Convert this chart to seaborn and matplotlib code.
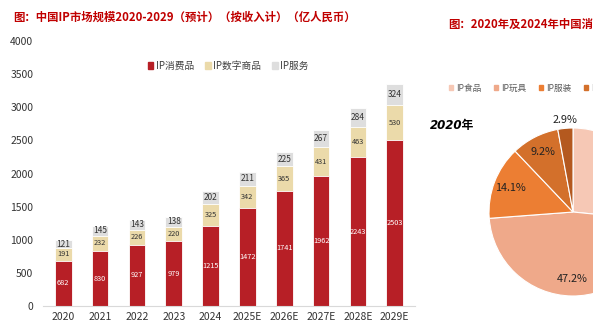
import matplotlib
matplotlib.use("Agg")
import matplotlib.pyplot as plt
import seaborn as sns
import numpy as np
import pandas as pd
from matplotlib.patches import Patch

sns.set_theme(style="white")
plt.rcParams['font.family'] = ['Noto Sans CJK SC', 'DejaVu Sans']

# ---- data ----
years = ["2020", "2021", "2022", "2023", "2024", "2025E", "2026E", "2027E", "2028E", "2029E"]
consumer = [682, 830, 927, 979, 1215, 1472, 1741, 1962, 2243, 2503]
digital = [191, 232, 226, 220, 325, 342, 365, 431, 463, 530]
service = [121, 145, 143, 138, 202, 211, 225, 267, 284, 324]
series_names = ["IP消费品", "IP数字商品", "IP服务"]

pie_labels = ["IP食品", "IP玩具", "IP服装", "IP文旅", "其他"]
pie_values = [26.6, 47.2, 14.1, 9.2, 2.9]

c_red, c_beige, c_gray = "#B71F26", "#EBDAAA", "#DEDEDE"
pie_colors = ["#F6C8B5", "#EFA98A", "#EC7E33", "#D3702B", "#B4591F"]
title_red = "#C00000"

W, H = 593, 335
fig = plt.figure(figsize=(W / 100, H / 100), dpi=100)
fig.patch.set_facecolor("white")

def fx(px):
    return px / W

def fy(py):
    return 1 - py / H

# ---- bar chart ----
ax = fig.add_axes([fx(43), fy(306), fx(415 - 43), (306 - 41) / H])
df = pd.DataFrame({"year": years, "c": consumer, "d": digital, "s": service})
df["cd"] = df["c"] + df["d"]
df["cds"] = df["cd"] + df["s"]

sns.barplot(data=df, x="year", y="cds", color=c_gray, saturation=1, width=0.45, ax=ax, edgecolor="white", linewidth=0.6)
sns.barplot(data=df, x="year", y="cd", color=c_beige, saturation=1, width=0.45, ax=ax, edgecolor="white", linewidth=0.6)
sns.barplot(data=df, x="year", y="c", color=c_red, saturation=1, width=0.45, ax=ax, edgecolor="white", linewidth=0.6)

for i in range(len(years)):
    bases = [0, consumer[i], consumer[i] + digital[i]]
    vals = [consumer[i], digital[i], service[i]]
    cols = ["white", "#333333", "#333333"]
    sizes = [5.3, 5.3, 6.0]
    for b, v, col, fs in zip(bases, vals, cols, sizes):
        ax.text(i, b + v / 2, str(v), ha="center", va="center", fontsize=fs, color=col)

ax.set_ylim(0, 4000)
ax.set_xlim(-0.55, len(years) - 0.45)
ax.set_yticks(np.arange(0, 4001, 500))
ax.set_xlabel("")
ax.set_ylabel("")
ax.tick_params(axis="y", length=0, labelsize=7.5, colors="#333333", pad=7)
ax.tick_params(axis="x", length=0, labelsize=7.5, colors="#333333", pad=4)
ax.set_xticks(np.arange(-0.5, len(years), 1), minor=True)
ax.tick_params(axis="x", which="minor", length=3, color="#D9D9D9")
for s in ["top", "right", "left"]:
    ax.spines[s].set_visible(False)
ax.spines["bottom"].set_color("#D9D9D9")
ax.spines["bottom"].set_linewidth(0.8)
ax.grid(False)

handles = [Patch(color=c) for c in (c_red, c_beige, c_gray)]
fig.legend(handles, series_names, loc="center", bbox_to_anchor=(fx(228), fy(66)), ncol=3,
           frameon=False, fontsize=7, handlelength=0.6, handleheight=0.6, handletextpad=0.25,
           columnspacing=1.1, labelcolor="#404040")

fig.text(fx(13), fy(17), "图：中国IP市场规模2020-2029（预计）（按收入计）（亿人民币）",
         color=title_red, fontsize=8.2, fontweight="bold", va="center", ha="left")

# ---- pie chart (partially visible, clipped by the figure edge as in the reference) ----
cx, cy, r = 573, 212, 84
pax = fig.add_axes([fx(cx - r), fy(cy + r), 2 * r / W, 2 * r / H])
wedges, _ = pax.pie(pie_values, colors=pie_colors, startangle=90, counterclock=False,
                    wedgeprops=dict(edgecolor="white", linewidth=0.8))
pax.set_xlim(-1, 1)
pax.set_ylim(-1, 1)
pax.set_aspect("auto")
for w, v in zip(wedges, pie_values):
    ang = np.deg2rad((w.theta1 + w.theta2) / 2)
    rr = 1.1 if v < 5 else 0.8
    pax.text(rr * np.cos(ang), rr * np.sin(ang), f"{v:.1f}%", ha="center", va="center",
             fontsize=7.8, color="#222222")

phandles = [Patch(color=c) for c in pie_colors]
fig.legend(phandles, pie_labels, loc="center left", bbox_to_anchor=(fx(441), fy(88)), ncol=5,
           frameon=False, fontsize=6.2, handlelength=0.5, handleheight=0.5, handletextpad=0.3,
           columnspacing=1.5, labelcolor="#595959")

fig.text(fx(430), fy(126), "2020年", fontsize=8.5, fontweight="bold", fontstyle="italic",
         family=["DejaVu Sans", "Noto Sans CJK SC"], color="black", va="center", ha="left")

fig.text(fx(448), fy(24), "图：2020年及2024年中国消费者IP产品市场结构",
         color=title_red, fontsize=8.2, fontweight="bold", va="center", ha="left")

fig.savefig("out.png", dpi=100, facecolor="white")
